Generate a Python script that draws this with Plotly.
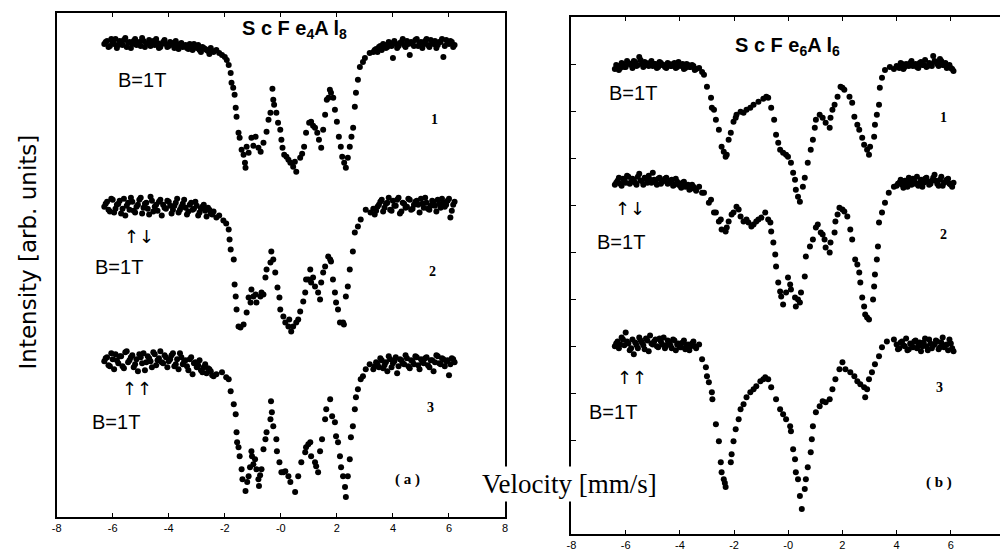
import plotly.graph_objects as go

# ---------------- velocity channels (mm/s) ----------------
va_left = [-6.3,-6.2,-6.1,-6.0,-5.9,-5.8,-5.7,-5.6,-5.5,-5.4,-5.3,-5.2,-5.1,-5.0,-4.9,-4.8,-4.7,-4.6,-4.5,-4.4,
           -4.3,-4.2,-4.1,-4.0,-3.9,-3.8,-3.7,-3.6,-3.5,-3.4,-3.3,-3.2,-3.1,-3.0,-2.9,-2.8,-2.7,-2.6,-2.5,-2.4]
va_left2 = [-6.25,-6.15,-6.05,-5.95,-5.85,-5.75,-5.65,-5.55,-5.45,-5.35,-5.25,-5.15,-5.05,-4.95,-4.85,-4.75,
            -4.65,-4.55,-4.45,-4.35,-4.25,-4.15,-4.05,-3.95,-3.85,-3.75,-3.65,-3.55,-3.45,-3.35,-3.25,-3.15,
            -3.05,-2.95,-2.85,-2.75,-2.65,-2.55,-2.45]
va_right = [3.3,3.4,3.5,3.6,3.7,3.8,3.9,4.0,4.1,4.2,4.3,4.4,4.5,4.6,4.7,4.8,4.9,5.0,5.1,5.2,
            5.3,5.4,5.5,5.6,5.7,5.8,5.9,6.0,6.1,6.2]
va_right2 = [3.35,3.45,3.55,3.65,3.75,3.85,3.95,4.05,4.15,4.25,4.35,4.45,4.55,4.65,4.75,4.85,4.95,5.05,
             5.15,5.25,5.35,5.45,5.55,5.65,5.75,5.85,5.95,6.05,6.15]
vb_left = [-6.4,-6.3,-6.2,-6.1,-6.0,-5.9,-5.8,-5.7,-5.6,-5.5,-5.4,-5.3,-5.2,-5.1,-5.0,-4.9,-4.8,-4.7,-4.6,-4.5,
           -4.4,-4.3,-4.2,-4.1,-4.0,-3.9,-3.8,-3.7,-3.6,-3.5,-3.4]
vb_left2 = [-6.35,-6.25,-6.15,-6.05,-5.95,-5.85,-5.75,-5.65,-5.55,-5.45,-5.35,-5.25,-5.15,-5.05,-4.95,-4.85,
            -4.75,-4.65,-4.55,-4.45,-4.35,-4.25,-4.15,-4.05,-3.95,-3.85,-3.75,-3.65,-3.55,-3.45]
vb_right = [4.0,4.1,4.2,4.3,4.4,4.5,4.6,4.7,4.8,4.9,5.0,5.1,5.2,5.3,5.4,5.5,5.6,5.7,5.8,5.9,6.0,6.1]
vb_right2 = [4.05,4.15,4.25,4.35,4.45,4.55,4.65,4.75,4.85,4.95,5.05,5.15,5.25,5.35,5.45,5.55,5.65,5.75,
             5.85,5.95,6.05]

# ---------------- panel (a) ScFe4Al8, intensity (arb. units) ----------------
a1_left = [474,477,472,476,479,473,475,478,471,476,474,479,475,472,477,474,478,476,473,475,
           471,476,474,472,475,470,473,474,471,473,469,472,474,470,468,471,469,467,470,466]
a1_left2 = [476,471,479,474,470,477,473,480,475,470,477,473,476,480,471,475,472,477,479,470,
            474,478,471,476,473,477,469,475,472,470,474,468,471,473,466,470,468,464,467]
a1_dip = [[-2.3,468],[-2.2,465],[-2.1,463],[-2.0,461],[-1.93,458],[-1.86,453],[-1.79,445],[-1.76,435],
          [-1.70,430],[-1.65,423],[-1.61,410],[-1.58,401],[-1.51,385],[-1.47,380],[-1.40,368],[-1.33,363],
          [-1.28,355],[-1.26,350],[-1.22,371],[-1.15,365],[-1.05,380],[-0.98,372],[-0.90,381],[-0.80,370],
          [-0.72,366],[-0.62,375],[-0.51,386],[-0.44,398],[-0.37,405],[-0.30,429],[-0.27,418],[-0.24,413],
          [-0.16,405],[-0.10,395],[-0.02,388],[0.02,378],[0.06,370],[0.12,363],[0.20,361],[0.27,358],
          [0.34,355],[0.44,351],[0.50,356],[0.55,346],[0.69,360],[0.76,364],[0.83,371],[0.90,385],
          [1.01,395],[1.08,396],[1.15,392],[1.22,390],[1.30,385],[1.36,378],[1.44,370],[1.51,388],
          [1.58,403],[1.64,418],[1.70,420],[1.75,428],[1.79,425],[1.87,420],[1.93,408],[2.00,396],
          [2.07,381],[2.14,371],[2.19,361],[2.26,355],[2.32,350],[2.39,360],[2.46,371],[2.52,381],
          [2.58,390],[2.64,411],[2.68,425],[2.75,438],[2.82,451],[2.93,456],[3.00,460],[3.17,465]]
a1_right = [466,469,471,468,473,471,475,460,474,472,476,473,477,463,474,478,472,476,474,479,
            471,475,477,473,476,461,478,474,476,473]
a1_right2 = [468,466,472,474,470,476,472,477,470,475,479,471,474,476,472,479,475,470,477,473,
             478,474,470,476,479,472,475,477,471]

a2_left = [311,316,306,318,309,314,304,319,312,308,316,305,313,320,310,315,303,317,311,307,
           318,313,309,316,304,312,319,308,314,310,306,315,309,312,305,311,307,310,304,306]
a2_left2 = [314,308,319,305,313,317,309,302,315,320,307,311,318,304,314,309,321,306,313,316,
            302,310,317,312,308,315,305,311,318,303,313,308,316,302,309,313,301,308,303]
a2_dip = [[-2.3,300],[-2.2,302],[-2.05,297],[-1.95,294],[-1.86,288],[-1.83,278],[-1.79,268],[-1.68,258],
          [-1.65,233],[-1.61,221],[-1.58,208],[-1.51,191],[-1.44,190],[-1.33,193],[-1.22,205],[-1.15,220],
          [-1.08,215],[-1.05,228],[-0.98,221],[-0.90,223],[-0.87,215],[-0.73,221],[-0.69,225],[-0.62,223],
          [-0.55,240],[-0.51,248],[-0.37,255],[-0.34,266],[-0.27,258],[-0.20,245],[-0.12,230],[-0.05,220],
          [-0.02,208],[0.09,201],[0.16,195],[0.27,191],[0.30,198],[0.37,186],[0.44,191],[0.55,195],
          [0.62,198],[0.69,206],[0.80,216],[0.87,225],[0.90,238],[0.98,238],[1.05,248],[1.08,235],
          [1.15,240],[1.22,231],[1.33,225],[1.40,218],[1.44,235],[1.51,245],[1.58,251],[1.69,261],
          [1.76,258],[1.79,256],[1.86,238],[1.93,225],[1.97,215],[2.04,208],[2.11,195],[2.22,195],
          [2.25,193],[2.32,221],[2.39,231],[2.46,248],[2.57,266],[2.64,285],[2.75,291],[2.85,298],
          [3.03,308],[3.2,305]]
a2_right = [309,307,313,318,310,315,308,317,312,320,306,314,311,318,309,316,313,319,310,315,
            308,317,312,318,310,315,313,319,307,316]
a2_right2 = [303,311,316,306,314,320,307,312,318,304,315,310,319,308,313,317,305,314,320,309,
             312,316,306,314,319,311,317,300,313]

a3_left = [156,160,151,158,163,154,161,149,166,157,162,153,146,160,164,155,159,150,163,157,
           166,154,160,156,162,151,158,164,153,157,147,160,154,150,157,145,153,149,146,141]
a3_left2 = [159,152,164,148,157,161,151,165,155,160,150,158,163,154,147,161,156,165,152,159,
            155,162,150,158,164,153,148,160,156,151,158,143,155,152,147,150,144,148,142]
a3_dip = [[-2.3,143],[-2.1,145],[-1.95,140],[-1.86,138],[-1.79,126],[-1.68,113],[-1.61,103],[-1.58,85],
          [-1.56,75],[-1.51,70],[-1.47,61],[-1.40,48],[-1.37,38],[-1.26,26],[-1.20,35],[-1.15,41],
          [-1.10,50],[-1.05,66],[-1.03,61],[-0.98,53],[-0.92,58],[-0.87,48],[-0.80,38],[-0.78,31],
          [-0.74,42],[-0.69,48],[-0.62,68],[-0.55,78],[-0.51,85],[-0.37,98],[-0.35,116],[-0.32,105],
          [-0.27,91],[-0.16,78],[-0.14,66],[-0.05,55],[0.02,45],[0.09,45],[0.16,46],[0.27,41],
          [0.34,35],[0.51,25],[0.62,41],[0.73,55],[0.87,65],[0.90,70],[0.98,73],[1.05,75],
          [1.08,61],[1.22,55],[1.26,51],[1.33,45],[1.40,66],[1.47,78],[1.58,98],[1.62,108],
          [1.76,118],[1.83,101],[1.93,95],[1.97,81],[2.04,75],[2.11,61],[2.15,50],[2.22,41],
          [2.29,30],[2.32,20],[2.39,41],[2.46,58],[2.50,80],[2.57,91],[2.64,108],[2.68,120],
          [2.75,128],[2.85,138],[2.93,141],[3.03,148],[3.17,153]]
a3_right = [148,155,150,157,152,146,158,154,160,151,157,153,159,149,156,161,152,158,154,160,
            150,157,155,161,153,158,156,142,159,155]
a3_right2 = [151,153,159,149,155,161,150,156,144,158,154,162,151,157,153,160,148,155,159,152,
             157,146,162,154,159,151,157,153,158]

# ---------------- panel (b) ScFe6Al6, intensity (arb. units) ----------------
b1_left = [466,469,467,471,468,472,470,474,469,478,471,473,470,472,469,471,468,472,470,467,
           471,469,472,468,470,471,467,470,468,469,466]
b1_left2 = [470,465,472,468,474,471,467,473,470,475,468,472,469,474,471,467,473,470,468,472,
            469,471,467,473,469,466,471,468,470,465]
b1_dip = [[-3.29,467],[-3.18,463],[-3.11,460],[-3.00,448],[-2.85,437],[-2.82,427],[-2.74,425],[-2.67,415],
          [-2.56,405],[-2.46,388],[-2.38,383],[-2.31,378],[-2.27,380],[-2.20,395],[-2.12,402],[-2.02,413],
          [-1.94,417],[-1.91,420],[-1.76,423],[-1.65,422],[-1.54,425],[-1.40,427],[-1.28,430],[-1.10,433],
          [-0.92,436],[-0.81,438],[-0.74,437],[-0.63,427],[-0.52,415],[-0.45,400],[-0.37,392],[-0.30,385],
          [-0.19,382],[-0.08,380],[-0.01,378],[0.10,372],[0.18,362],[0.25,355],[0.28,345],[0.36,338],
          [0.43,333],[0.54,348],[0.61,357],[0.72,372],[0.83,385],[0.91,395],[0.98,407],[1.02,415],
          [1.16,420],[1.27,417],[1.38,412],[1.53,407],[1.56,417],[1.63,425],[1.71,430],[1.82,438],
          [1.93,448],[2.00,447],[2.07,445],[2.26,438],[2.36,432],[2.44,418],[2.55,410],[2.62,405],
          [2.73,397],[2.80,390],[2.91,385],[2.98,380],[3.02,388],[3.17,398],[3.20,410],[3.27,420],
          [3.35,430],[3.38,447],[3.46,457],[3.57,465],[3.75,468],[3.9,466]]
b1_right = [469,467,471,468,470,472,469,471,467,473,470,468,472,469,474,471,476,470,472,468,467,464]
b1_right2 = [468,472,466,471,469,474,470,468,472,470,475,469,471,479,473,469,474,470,467,470,466]

b2_left = [350,354,351,356,352,358,353,355,350,361,354,357,352,355,362,353,356,351,354,357,
           352,355,350,353,349,352,348,350,346,348,344]
b2_left2 = [352,357,349,355,359,351,356,352,358,354,350,356,359,352,355,350,357,353,356,351,
            354,349,356,351,347,353,349,345,350,346]
b2_dip = [[-3.29,348],[-3.18,342],[-3.11,342],[-2.93,332],[-2.85,335],[-2.74,322],[-2.67,322],[-2.56,313],
          [-2.49,315],[-2.46,305],[-2.31,303],[-2.27,307],[-2.20,313],[-2.09,320],[-2.02,322],[-1.91,328],
          [-1.83,325],[-1.76,318],[-1.65,313],[-1.54,315],[-1.47,312],[-1.36,308],[-1.28,310],[-1.18,313],
          [-1.10,315],[-0.99,317],[-0.85,322],[-0.74,315],[-0.66,312],[-0.63,303],[-0.55,292],[-0.48,280],
          [-0.45,268],[-0.37,252],[-0.30,243],[-0.26,238],[-0.19,230],[-0.08,242],[-0.01,257],[0.07,250],
          [0.10,245],[0.25,237],[0.28,228],[0.36,235],[0.43,232],[0.47,242],[0.61,258],[0.65,278],
          [0.80,288],[0.91,295],[1.02,307],[1.09,310],[1.20,302],[1.27,300],[1.34,295],[1.38,287],
          [1.53,282],[1.56,292],[1.71,302],[1.74,313],[1.82,320],[1.89,327],[2.00,325],[2.07,323],
          [2.18,318],[2.29,305],[2.36,295],[2.47,275],[2.55,270],[2.62,262],[2.66,252],[2.73,237],
          [2.80,228],[2.84,220],[2.91,217],[2.98,215],[3.13,235],[3.17,248],[3.20,260],[3.27,275],
          [3.31,288],[3.35,312],[3.46,322],[3.57,332],[3.71,342],[3.90,348]]
b2_right = [349,352,350,354,348,353,356,351,349,355,352,357,350,354,360,351,355,349,353,356,350,352]
b2_right2 = [351,355,347,352,357,350,354,358,352,348,356,353,351,357,354,349,358,352,355,351,348]

b3_left = [188,193,190,195,202,191,186,180,189,197,192,185,194,199,190,195,187,193,197,189,
           192,186,194,190,187,192,185,190,188,193,186]
b3_left2 = [191,186,197,189,193,184,195,192,186,194,189,196,183,191,193,188,196,190,186,194,
            189,195,184,191,187,194,189,184,191,188]
b3_dip = [[-3.29,190],[-3.18,175],[-3.04,167],[-3.00,158],[-2.93,152],[-2.82,142],[-2.80,135],[-2.67,110],
          [-2.56,93],[-2.49,72],[-2.46,62],[-2.38,55],[-2.34,51],[-2.31,47],[-2.12,72],[-2.09,80],
          [-2.02,93],[-1.94,105],[-1.83,115],[-1.76,125],[-1.65,130],[-1.54,137],[-1.40,142],[-1.28,145],
          [-1.18,148],[-1.03,153],[-0.92,155],[-0.85,157],[-0.74,155],[-0.63,147],[-0.45,135],[-0.30,125],
          [-0.19,120],[-0.08,115],[0.07,108],[0.10,103],[0.18,85],[0.25,75],[0.28,62],[0.36,55],
          [0.43,38],[0.50,25],[0.61,45],[0.65,55],[0.72,67],[0.83,82],[0.87,95],[0.91,108],
          [1.02,122],[1.16,128],[1.27,133],[1.38,132],[1.53,135],[1.63,145],[1.74,155],[1.89,165],
          [2.00,172],[2.11,165],[2.29,162],[2.44,158],[2.55,153],[2.66,150],[2.80,147],[2.84,137],
          [2.91,145],[2.98,155],[3.09,162],[3.20,170],[3.35,178],[3.46,187],[3.64,193],[3.90,195]]
b3_right = [190,186,193,188,184,191,187,194,189,183,192,188,195,186,190,193,187,197,189,184,191,183]
b3_right2 = [185,192,189,196,185,190,193,186,192,188,196,184,191,189,194,185,192,187,190,195,186]

tick_vals = [-8, -6, -4, -2, 0, 2, 4, 6, 8]
tick_text = ["-8", "-6", "-4", "-2", "-0", "2", "4", "6", "8"]

# The page body keeps its default 8 px margin, so the figure is sized to fit the window.
W, H = 1000, 543
OFF = 8
fig = go.Figure()


def add_spectrum(parts, dip, xa, ya):
    xs, ys = [], []
    for v, y in parts:
        xs += v
        ys += y
    xs += [p[0] for p in dip]
    ys += [p[1] for p in dip]
    fig.add_trace(go.Scatter(x=xs, y=ys, mode="markers", xaxis=xa, yaxis=ya,
                             marker=dict(size=6, color="black"), showlegend=False,
                             hoverinfo="skip"))


add_spectrum([(va_left, a1_left), (va_left2, a1_left2), (va_right, a1_right), (va_right2, a1_right2)],
             a1_dip, "x", "y")
add_spectrum([(va_left, a2_left), (va_left2, a2_left2), (va_right, a2_right), (va_right2, a2_right2)],
             a2_dip, "x", "y")
add_spectrum([(va_left, a3_left), (va_left2, a3_left2), (va_right, a3_right), (va_right2, a3_right2)],
             a3_dip, "x", "y")
add_spectrum([(vb_left, b1_left), (vb_left2, b1_left2), (vb_right, b1_right), (vb_right2, b1_right2)],
             b1_dip, "x2", "y2")
add_spectrum([(vb_left, b2_left), (vb_left2, b2_left2), (vb_right, b2_right), (vb_right2, b2_right2)],
             b2_dip, "x2", "y2")
add_spectrum([(vb_left, b3_left), (vb_left2, b3_left2), (vb_right, b3_right), (vb_right2, b3_right2)],
             b3_dip, "x2", "y2")

sans = "Liberation Sans, Arial, sans-serif"
serif = "Liberation Serif, Times New Roman, serif"


def px(x):
    return (x - OFF) / W


def py(y):
    return (H - (y - OFF)) / H


xcommon = dict(range=[-8, 8], tickmode="array", tickvals=tick_vals, ticktext=tick_text,
               ticks="inside", ticklen=4, tickwidth=1, tickcolor="black", mirror="ticks",
               showline=True, linecolor="black", linewidth=2, showgrid=False, zeroline=False,
               tickfont=dict(family=sans, size=11, color="black"))

fig.update_layout(
    width=W, height=H, margin=dict(l=0, r=0, t=0, b=0),
    paper_bgcolor="white", plot_bgcolor="white",
    xaxis=dict(domain=[px(52), px(504)], anchor="y", **xcommon),
    yaxis=dict(domain=[py(518), py(13)], anchor="x", range=[0, 505],
               showticklabels=False, ticks="", showline=True, mirror=True,
               linecolor="black", linewidth=1.5, showgrid=False, zeroline=False),
    xaxis2=dict(domain=[px(571), 1.0], anchor="y2", **xcommon),
    yaxis2=dict(domain=[py(535), py(17)], anchor="x2", range=[0, 518],
                tickmode="array", tickvals=[47, 94, 141, 188, 235, 282, 329, 376, 423, 470],
                showticklabels=False, ticks="inside", ticklen=5, tickcolor="black",
                mirror="ticks", showline=True, linecolor="black", linewidth=1.5,
                showgrid=False, zeroline=False),
)

ann = []


def t(x, y, text, xr, yr, font, **kw):
    d = dict(x=x, y=y, xref=xr, yref=yr, text=text, showarrow=False, font=font,
             xanchor="center", yanchor="middle")
    d.update(kw)
    ann.append(d)


f_title = dict(family=sans, size=20, color="black")
f_b = dict(family=sans, size=20, color="black")
f_arrow = dict(family="DejaVu Sans", size=18, color="black")
f_num = dict(family=serif, size=14, color="black")
f_lab = dict(family=serif, size=15, color="black")

# panel (a)
t(0.48, 488, "<b>S c F e<sub>4</sub>A l<sub>8</sub></b>", "x", "y", f_title)
t(-4.95, 438, "B=1T", "x", "y", f_b)
t(5.48, 398, "<b>1</b>", "x", "y", f_num)
t(-5.05, 281, "↑↓", "x", "y", f_arrow)
t(-5.76, 251, "B=1T", "x", "y", f_b)
t(5.41, 246, "<b>2</b>", "x", "y", f_num)
t(-5.13, 129, "↑↑", "x", "y", f_arrow)
t(-5.87, 95, "B=1T", "x", "y", f_b)
t(5.34, 110, "<b>3</b>", "x", "y", f_num)
t(4.52, 38, "<b>( a )</b>", "x", "y", f_lab)

# panel (b)
t(-0.04, 488, "<b>S c F e<sub>6</sub>A l<sub>6</sub></b>", "x2", "y2", f_title)
t(-5.74, 442, "B=1T", "x2", "y2", f_b)
t(5.72, 417, "<b>1</b>", "x2", "y2", f_num)
t(-5.85, 326, "↑↓", "x2", "y2", f_arrow)
t(-6.18, 293, "B=1T", "x2", "y2", f_b)
t(5.72, 300, "<b>2</b>", "x2", "y2", f_num)
t(-5.77, 157, "↑↑", "x2", "y2", f_arrow)
t(-6.47, 122, "B=1T", "x2", "y2", f_b)
t(5.58, 147, "<b>3</b>", "x2", "y2", f_num)
t(5.58, 52, "<b>( b )</b>", "x2", "y2", f_lab)

# shared axis titles
t(px(569), py(485), "Velocity [mm/s]", "paper", "paper",
  dict(family=serif, size=27, color="black"), bgcolor="white", borderpad=2)
t(px(23), py(252), "Intensity [arb. units]", "paper", "paper",
  dict(family="DejaVu Sans", size=23, color="black"), textangle=-90)

fig.update_layout(annotations=ann)
fig.write_html("out.html")
